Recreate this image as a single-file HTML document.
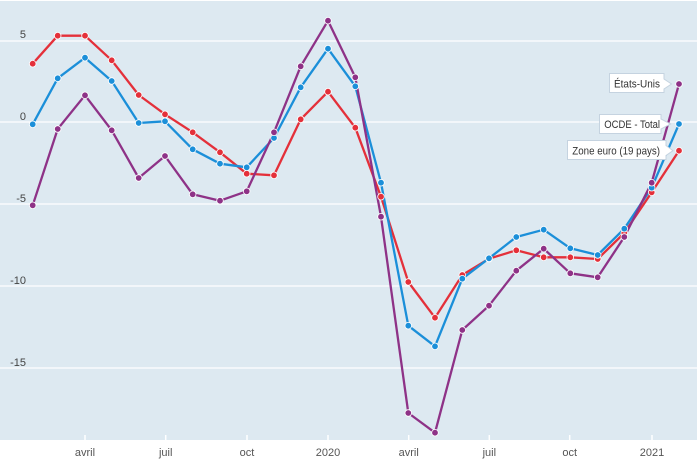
<!DOCTYPE html>
<html><head><meta charset="utf-8">
<style>
html,body{margin:0;padding:0;background:#fff;}
svg{display:block;font-family:"Liberation Sans","DejaVu Sans",sans-serif;}
</style></head>
<body>
<svg width="697" height="465" viewBox="0 0 697 465" xmlns="http://www.w3.org/2000/svg">
<rect x="0" y="1" width="697" height="439" fill="#dde9f1"/>
<g stroke="#ffffff" stroke-width="1.3">
<line x1="0" y1="41" x2="697" y2="41"/>
<line x1="0" y1="122" x2="697" y2="122"/>
<line x1="0" y1="204" x2="697" y2="204"/>
<line x1="0" y1="286" x2="697" y2="286"/>
<line x1="0" y1="368" x2="697" y2="368"/>
</g>
<g stroke="#ffffff" stroke-width="1.5">
<line x1="85" y1="435" x2="85" y2="440"/>
<line x1="165.7" y1="435" x2="165.7" y2="440"/>
<line x1="247" y1="435" x2="247" y2="440"/>
<line x1="328" y1="435" x2="328" y2="440"/>
<line x1="408.7" y1="435" x2="408.7" y2="440"/>
<line x1="489.3" y1="435" x2="489.3" y2="440"/>
<line x1="569.7" y1="435" x2="569.7" y2="440"/>
<line x1="652" y1="435" x2="652" y2="440"/>
</g>
<g font-size="11" fill="#444" text-anchor="end">
<text x="26" y="38">5</text>
<text x="26" y="120">0</text>
<text x="26" y="202">-5</text>
<text x="26" y="284">-10</text>
<text x="26" y="366">-15</text>
</g>
<g font-size="11" fill="#555" text-anchor="middle">
<text x="85" y="456">avril</text>
<text x="165.7" y="456">juil</text>
<text x="247" y="456">oct</text>
<text x="328" y="456">2020</text>
<text x="408.7" y="456">avril</text>
<text x="489.3" y="456">juil</text>
<text x="569.7" y="456">oct</text>
<text x="652" y="456">2021</text>
</g>
<g fill="none" stroke-width="2.3" stroke-linejoin="round">
<polyline stroke="#e4303a" points="32.7,63.7 57.7,35.7 85,35.7 111.7,60.3 138.7,95 165,114.3 192.7,132.3 220,152.3 246.7,173.7 274,175.3 300.7,119.3 328,91.7 355.3,127.7 381,196.7 408.3,282 435,317.7 462.3,275 489,258.7 516.3,250.3 543.7,257.3 570.3,257.3 597.7,259 624.3,233 651.7,192.3 679,150.7"/>
<polyline stroke="#1b8fd9" points="32.7,124.3 57.7,78.3 85,57.7 111.7,81 138.7,123 165,121.3 192.7,149.3 220,163.7 246.7,167.3 274,138 300.7,87.3 328,48.7 355.3,86.3 381,182.7 408.3,325.7 435,346.3 462.3,278.7 489,258.3 516.3,237 543.7,229.7 570.3,248.3 597.7,255 624.3,228.7 651.7,187.7 679,124"/>
<polyline stroke="#8e3287" points="32.7,205.3 57.7,129 85,95.3 111.7,130.3 138.7,178 165,156 192.7,194.3 220,200.7 246.7,191.3 274,132.3 300.7,66.3 328,20.7 355.3,77.3 381,216.7 408.3,413 435,432.7 462.3,330 489,305.7 516.3,270.7 543.7,248.7 570.3,273.3 597.7,277.3 624.3,237 651.7,182.7 679,84"/>
</g>
<g stroke="#ffffff" stroke-width="0.8">
<g fill="#e4303a">
<circle cx="32.7" cy="63.7" r="3.3"/><circle cx="57.7" cy="35.7" r="3.3"/><circle cx="85" cy="35.7" r="3.3"/><circle cx="111.7" cy="60.3" r="3.3"/><circle cx="138.7" cy="95" r="3.3"/><circle cx="165" cy="114.3" r="3.3"/><circle cx="192.7" cy="132.3" r="3.3"/><circle cx="220" cy="152.3" r="3.3"/><circle cx="246.7" cy="173.7" r="3.3"/><circle cx="274" cy="175.3" r="3.3"/><circle cx="300.7" cy="119.3" r="3.3"/><circle cx="328" cy="91.7" r="3.3"/><circle cx="355.3" cy="127.7" r="3.3"/><circle cx="381" cy="196.7" r="3.3"/><circle cx="408.3" cy="282" r="3.3"/><circle cx="435" cy="317.7" r="3.3"/><circle cx="462.3" cy="275" r="3.3"/><circle cx="489" cy="258.7" r="3.3"/><circle cx="516.3" cy="250.3" r="3.3"/><circle cx="543.7" cy="257.3" r="3.3"/><circle cx="570.3" cy="257.3" r="3.3"/><circle cx="597.7" cy="259" r="3.3"/><circle cx="624.3" cy="233" r="3.3"/><circle cx="651.7" cy="192.3" r="3.3"/><circle cx="679" cy="150.7" r="3.3"/>
</g>
<g fill="#1b8fd9">
<circle cx="32.7" cy="124.3" r="3.3"/><circle cx="57.7" cy="78.3" r="3.3"/><circle cx="85" cy="57.7" r="3.3"/><circle cx="111.7" cy="81" r="3.3"/><circle cx="138.7" cy="123" r="3.3"/><circle cx="165" cy="121.3" r="3.3"/><circle cx="192.7" cy="149.3" r="3.3"/><circle cx="220" cy="163.7" r="3.3"/><circle cx="246.7" cy="167.3" r="3.3"/><circle cx="274" cy="138" r="3.3"/><circle cx="300.7" cy="87.3" r="3.3"/><circle cx="328" cy="48.7" r="3.3"/><circle cx="355.3" cy="86.3" r="3.3"/><circle cx="381" cy="182.7" r="3.3"/><circle cx="408.3" cy="325.7" r="3.3"/><circle cx="435" cy="346.3" r="3.3"/><circle cx="462.3" cy="278.7" r="3.3"/><circle cx="489" cy="258.3" r="3.3"/><circle cx="516.3" cy="237" r="3.3"/><circle cx="543.7" cy="229.7" r="3.3"/><circle cx="570.3" cy="248.3" r="3.3"/><circle cx="597.7" cy="255" r="3.3"/><circle cx="624.3" cy="228.7" r="3.3"/><circle cx="651.7" cy="187.7" r="3.3"/><circle cx="679" cy="124" r="3.3"/>
</g>
<g fill="#8e3287">
<circle cx="32.7" cy="205.3" r="3.3"/><circle cx="57.7" cy="129" r="3.3"/><circle cx="85" cy="95.3" r="3.3"/><circle cx="111.7" cy="130.3" r="3.3"/><circle cx="138.7" cy="178" r="3.3"/><circle cx="165" cy="156" r="3.3"/><circle cx="192.7" cy="194.3" r="3.3"/><circle cx="220" cy="200.7" r="3.3"/><circle cx="246.7" cy="191.3" r="3.3"/><circle cx="274" cy="132.3" r="3.3"/><circle cx="300.7" cy="66.3" r="3.3"/><circle cx="328" cy="20.7" r="3.3"/><circle cx="355.3" cy="77.3" r="3.3"/><circle cx="381" cy="216.7" r="3.3"/><circle cx="408.3" cy="413" r="3.3"/><circle cx="435" cy="432.7" r="3.3"/><circle cx="462.3" cy="330" r="3.3"/><circle cx="489" cy="305.7" r="3.3"/><circle cx="516.3" cy="270.7" r="3.3"/><circle cx="543.7" cy="248.7" r="3.3"/><circle cx="570.3" cy="273.3" r="3.3"/><circle cx="597.7" cy="277.3" r="3.3"/><circle cx="624.3" cy="237" r="3.3"/><circle cx="651.7" cy="182.7" r="3.3"/><circle cx="679" cy="84" r="3.3"/>
</g>
</g>
<g fill="#ffffff" stroke="#c5d3e0" stroke-width="1">
<path d="M609.5,73.5 H664 V79 L671.5,84 L664,89 V92.5 H609.5 Z"/>
<path d="M599.5,114.5 H661 V119 L670.5,124 L661,129 V133.5 H599.5 Z"/>
<path d="M567.5,140.5 H666 V145.5 L673,150.7 L666,155.5 V159.5 H567.5 Z"/>
</g>
<g font-size="11" fill="#333">
<text x="614" y="87.5" textLength="46" lengthAdjust="spacingAndGlyphs">États-Unis</text>
<text x="604.3" y="128" textLength="55.7" lengthAdjust="spacingAndGlyphs">OCDE - Total</text>
<text x="572.3" y="154.5" textLength="87.7" lengthAdjust="spacingAndGlyphs">Zone euro (19 pays)</text>
</g>
</svg>
</body></html>
